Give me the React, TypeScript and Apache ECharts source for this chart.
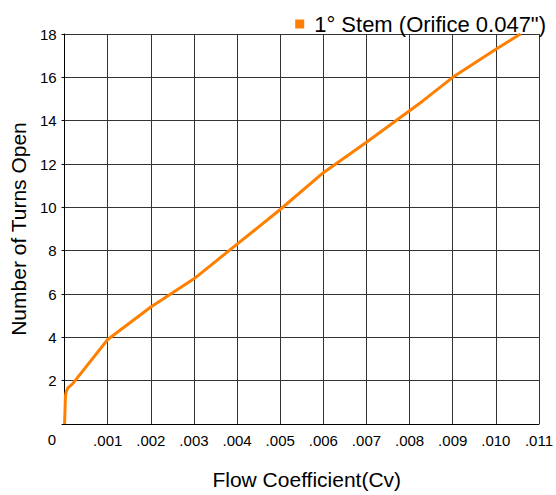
import React, { useEffect, useRef } from "react";
import * as echarts from "echarts";

const seriesName = "1° Stem (Orifice 0.047\")";
const cvValues = [0, 0.00002, 0.00004, 0.00008, 0.00018, 0.001, 0.002, 0.003, 0.004, 0.005, 0.006, 0.007, 0.0083, 0.009, 0.01, 0.01057];
const turnValues = [0, 1.3, 1.5, 1.68, 1.84, 3.9, 5.4, 6.7, 8.3, 9.9, 11.6, 13.0, 14.9, 16.0, 17.3, 18.0];
const xTitle = "Flow Coefficient(Cv)";
const yTitle = "Number of Turns Open";

const FONT = "'Liberation Sans', Arial, sans-serif";

export default function App() {
  const ref = useRef<HTMLDivElement>(null);
  useEffect(() => {
    if (!ref.current) return;
    const chart = echarts.init(ref.current, undefined, { renderer: "svg" });
    const data = cvValues.map((v, i) => [v, turnValues[i]]);
    chart.setOption({
      animation: false,
      backgroundColor: "#ffffff",
      textStyle: { fontFamily: FONT },
      grid: { left: 64, right: 15, top: 34, bottom: 70, containLabel: false },
      legend: {
        data: [seriesName],
        right: 5,
        top: 8,
        icon: "rect",
        itemWidth: 9,
        itemHeight: 9,
        textStyle: { fontFamily: FONT, fontSize: 22, color: "#000", padding: [0, 0, 0, 5] },
      },
      graphic: [
        {
          type: "text",
          x: 56,
          y: 439,
          style: { text: "0", font: `15px ${FONT}`, fill: "#000", align: "right", verticalAlign: "middle" },
        },
      ],
      xAxis: {
        type: "value",
        min: 0,
        max: 0.011,
        interval: 0.001,
        name: xTitle,
        nameLocation: "middle",
        nameGap: 45,
        nameTextStyle: { fontFamily: FONT, fontSize: 21, color: "#000", padding: [0, 0, 0, 10] },
        axisLine: { show: true, lineStyle: { color: "#000", width: 1 } },
        axisTick: { show: false },
        axisLabel: {
          margin: 9,
          fontFamily: FONT,
          fontSize: 15,
          color: "#000",
          formatter: (v: number) => {
            const n = Math.round(v * 1000);
            if (n === 0) return "";
            return "." + String(n).padStart(3, "0");
          },
        },
        splitLine: { show: true, lineStyle: { color: "#333", width: 1 } },
      },
      yAxis: {
        type: "value",
        min: 0,
        max: 18,
        interval: 2,
        name: yTitle,
        nameLocation: "middle",
        nameGap: 34,
        nameTextStyle: { fontFamily: FONT, fontSize: 21, color: "#000" },
        axisLine: { show: true, lineStyle: { color: "#000", width: 1 } },
        axisTick: { show: true, length: 3, lineStyle: { color: "#000" } },
        axisLabel: {
          margin: 8,
          fontFamily: FONT,
          fontSize: 15,
          color: "#000",
          formatter: (v: number) => (v === 0 ? "" : String(v)),
        },
        splitLine: { show: true, lineStyle: { color: "#333", width: 1 } },
      },
      series: [
        {
          name: seriesName,
          type: "line",
          data,
          showSymbol: false,
          symbol: "none",
          smooth: false,
          color: "#ff8000",
          lineStyle: { color: "#ff8000", width: 3 },
          z: 5,
        },
      ],
    });
    return () => chart.dispose();
  }, []);
  return (
    <div
      ref={ref}
      style={{ position: "fixed", left: 0, top: 0, width: 556, height: 495, background: "#fff" }}
    />
  );
}
